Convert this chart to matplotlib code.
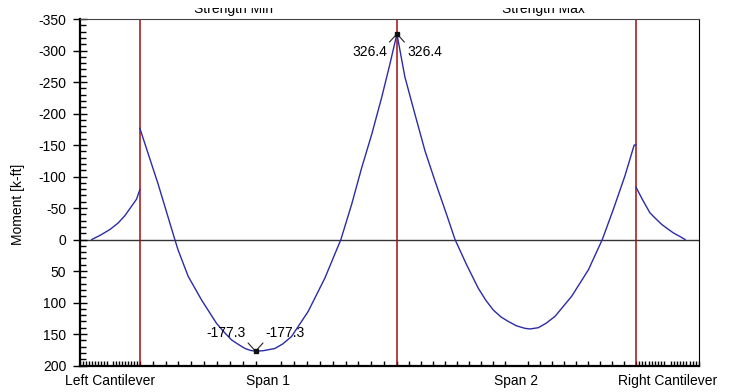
import numpy as np
import matplotlib.pyplot as plt
from matplotlib.patches import Rectangle

plt.rcParams['font.family'] = ['Liberation Sans', 'DejaVu Sans']
plt.rcParams['axes.unicode_minus'] = False

# span layout (ft)
span_names = ['Left Cantilever', 'Span 1', 'Span 2', 'Right Cantilever']
span_len = [23.3, 100.0, 93.0, 24.5]

# moment envelope, stations measured from the start of each span
lc_x = [4.6, 8.0, 11.7, 14.8, 17.5, 20.1, 22.0, 23.3]
lc_m = [0, -7, -16, -26, -38, -53, -64, -79]

s1_x = [0, 7.1, 13.6, 14.9, 18.8, 24.0, 29.8, 33.0, 35.7, 38.5, 40.9, 43.0,
        45.0, 48.0, 52.5, 55.5, 59.0, 65.5, 72.0, 78.2, 82.4, 86.3, 90.2,
        94.1, 97.3, 100.0]
s1_m = [-176.5, -88, 0, 17, 58.5, 96, 133, 148, 159.5, 167, 173, 176,
        177.3, 176.5, 173, 166, 154, 114, 61, 0, -56, -114, -167,
        -226, -279, -326.4]

s2_x = [0, 3.1, 7.0, 10.9, 14.8, 19.3, 22.6, 27.1, 31.6, 34.5, 37.5, 40.5,
        43.3, 46.5, 49.8, 51.8, 55.0, 58.0, 61.5, 68.0, 74.5, 79.9, 84.2,
        88.7, 92.3, 93.0]
s2_m = [-326.4, -258, -199, -141, -93, -40, 0, 40, 77, 96, 112, 123,
        130, 137, 141, 142, 140, 133, 122, 90, 48, 0, -48,
        -101, -150, -150]

rc_x = [0, 2.7, 5.4, 7.7, 10.0, 12.3, 14.5, 17.0, 19.1]
rc_m = [-83, -62, -42.5, -33, -24, -17, -10.6, -5, 0]

# labelled extremes: (span index, station, moment)
peaks = [(2, 0.0, -326.4), (1, 45.0, 177.3)]

starts = np.concatenate([[0], np.cumsum(span_len)])
segments = [(lc_x, lc_m), (s1_x, s1_m), (s2_x, s2_m), (rc_x, rc_m)]

fig, ax = plt.subplots(figsize=(7.29, 3.92), dpi=100)
fig.subplots_adjust(left=0.1097, right=0.9588, bottom=0.0676, top=0.9515)

ax.axhline(0, color='#333333', lw=1, zorder=1)
for s in starts[1:-1]:
    ax.axvline(s, color='#9e1010', lw=1.1, zorder=2)

for i, (xs, ms) in enumerate(segments):
    ax.plot(starts[i] + np.array(xs), ms, color='#2b2ba6', lw=1, zorder=3)

for i, st, m in peaks:
    x = starts[i] + st
    ax.plot([x], [m], marker='s', ms=2.5, color='#111111', zorder=4)
    lab = f'{-m:.1f}'
    if m < 0:
        dy, rel = -18, 1
    else:
        dy, rel = 18, 0
    ax.annotate(lab, (x, m), xytext=(-10, dy), textcoords='offset pixels',
                ha='right', va='center', fontsize=10,
                arrowprops=dict(arrowstyle='-', color='#222222', lw=0.8,
                                shrinkA=0, shrinkB=0, relpos=(1, rel)))
    ax.annotate(lab, (x, m), xytext=(10, dy), textcoords='offset pixels',
                ha='left', va='center', fontsize=10,
                arrowprops=dict(arrowstyle='-', color='#222222', lw=0.8,
                                shrinkA=0, shrinkB=0, relpos=(0, rel)))

ax.set_xlim(starts[0], starts[-1])
ax.set_ylim(200, -350)
ax.set_yticks(np.arange(-350, 201, 50))
ax.set_yticks(np.arange(-350, 201, 10), minor=True)
ax.tick_params(axis='y', which='major', direction='inout', length=9.5,
               width=1, labelsize=10, pad=5)
ax.tick_params(axis='y', which='minor', direction='in', length=4.3, width=1)

centers = (starts[:-1] + starts[1:]) / 2
ax.set_xticks(centers, span_names)
xt = np.unique(np.concatenate([np.linspace(starts[k], starts[k + 1], 21)
                               for k in range(4)]))
ax.set_xticks(xt, minor=True)
ax.tick_params(axis='x', which='major', length=0, labelsize=10, pad=6)
ax.tick_params(axis='x', which='minor', direction='in', length=3.6, width=1)

ax.set_ylabel('Moment [k-ft]', fontsize=10)
ax.yaxis.set_label_coords(-0.088, 0.466)

for side in ['left', 'bottom']:
    ax.spines[side].set_linewidth(1.6)
    ax.spines[side].set_color('black')
ax.spines['top'].set_color('#444444')
ax.spines['right'].set_color('black')

fig.text(233 / 729, 1 - 13 / 392, 'Strength Min', ha='center', va='baseline', fontsize=10)
fig.text(543 / 729, 1 - 13 / 392, 'Strength Max', ha='center', va='baseline', fontsize=10)
fig.add_artist(Rectangle((0, 1 - 8 / 392), 1, 8 / 392, transform=fig.transFigure,
                         facecolor='white', edgecolor='none', zorder=10))

fig.savefig('out.png', dpi=100)
